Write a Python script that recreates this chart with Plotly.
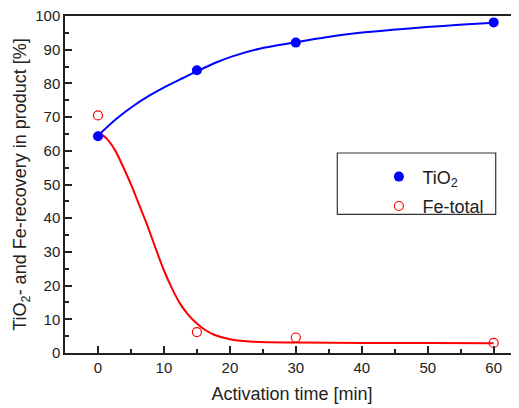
import plotly.graph_objects as go

# measured points
time_min = [0, 15, 30, 60]
tio2_recovery = [64.3, 83.9, 92.1, 98.1]
fe_recovery = [70.5, 6.2, 4.6, 3.0]

# fitted curves
tio2_fit_t = [0, 2.8, 5.35, 7.9, 10.4, 12.9, 15, 17.9, 20.5, 24.5, 30, 34.6, 39.7, 44.7, 49.8, 54.8, 60]
tio2_fit_v = [64.5, 69.5, 73.3, 76.5, 79.2, 81.6, 83.6, 86.2, 88.1, 90.3, 92.2, 93.7, 95.0, 95.9, 96.7, 97.4, 98.0]
fe_fit_t = [0, 1.32, 2.58, 3.83, 5.1, 6.36, 7.38, 8.64, 9.9, 11.17, 12.4, 13.7, 14.95, 16.2, 17.5, 20, 23, 26, 30, 40, 50, 60]
fe_fit_v = [65.6, 63.6, 60.2, 55.2, 49.6, 43.4, 38.4, 31.6, 25.0, 19.4, 14.8, 11.3, 8.8, 6.9, 5.5, 4.1, 3.4, 3.2, 3.1, 3.0, 2.95, 2.9]

x_ticks = [0, 10, 20, 30, 40, 50, 60]
y_ticks = [0, 10, 20, 30, 40, 50, 60, 70, 80, 90, 100]

FONT = "Liberation Sans, Arial, sans-serif"

fig = go.Figure()
fig.add_trace(go.Scatter(x=tio2_fit_t, y=tio2_fit_v, mode="lines",
                         line=dict(color="#0000ff", width=2, shape="spline", smoothing=0.8),
                         showlegend=False, hoverinfo="skip"))
fig.add_trace(go.Scatter(x=fe_fit_t, y=fe_fit_v, mode="lines",
                         line=dict(color="#ff0000", width=2, shape="spline", smoothing=0.8),
                         showlegend=False, hoverinfo="skip"))
fig.add_trace(go.Scatter(x=time_min, y=tio2_recovery, mode="markers", name="TiO<sub>2</sub>", legendgroup="a",
                         marker=dict(color="#0000ff", size=10, symbol="circle")))
fig.add_trace(go.Scatter(x=time_min, y=fe_recovery, mode="markers", name="Fe-total", legendgroup="b",
                         marker=dict(color="#ff0000", size=9, symbol="circle-open", line=dict(width=1.2))))

# legend frame
fig.add_shape(type="rect", xref="paper", yref="paper", x0=0.5998, x1=0.9487, y0=0.4116, y1=0.5934,
              line=dict(color="#333", width=1.2), fillcolor="white", layer="below")

# the page body has an 8px default margin, so the figure is offset by 8px
fig.update_layout(
    width=511, height=400,
    margin=dict(l=57, r=0, t=8, b=55),
    paper_bgcolor="white", plot_bgcolor="white",
    font=dict(family=FONT, size=15, color="#222"),
    legend=dict(x=0.6, y=0.5774, xanchor="left", yanchor="top",
                borderwidth=0, bgcolor="rgba(0,0,0,0)",
                font=dict(size=18, family=FONT, color="#222"),
                indentation=38, itemwidth=37, tracegroupgap=3),
    xaxis=dict(range=[-5, 63.84], tickvals=x_ticks, ticks="inside", ticklen=7, tickwidth=1.5, tickcolor="#222",
               minor=dict(dtick=5, tick0=0, ticks="inside", ticklen=4, tickwidth=1.5, tickcolor="#222"),
               showline=True, linecolor="#222", linewidth=1.5, mirror=True, showgrid=False, zeroline=False,
               automargin=False,
               title=dict(text="Activation time [min]", font=dict(size=18), standoff=13),
               tickfont=dict(size=15)),
    yaxis=dict(range=[0, 100], tickvals=y_ticks, ticks="inside", ticklen=7, tickwidth=1.5, tickcolor="#222",
               minor=dict(dtick=5, tick0=0, ticks="inside", ticklen=4, tickwidth=1.5, tickcolor="#222"),
               showline=True, linecolor="#222", linewidth=1.5, mirror=False, showgrid=False, zeroline=False,
               automargin="left", ticklabeloverflow="allow",
               title=dict(text="TiO<sub>2</sub>- and Fe-recovery in product [%]", font=dict(size=18), standoff=4),
               tickfont=dict(size=15)),
)

fig.write_html("out.html")
